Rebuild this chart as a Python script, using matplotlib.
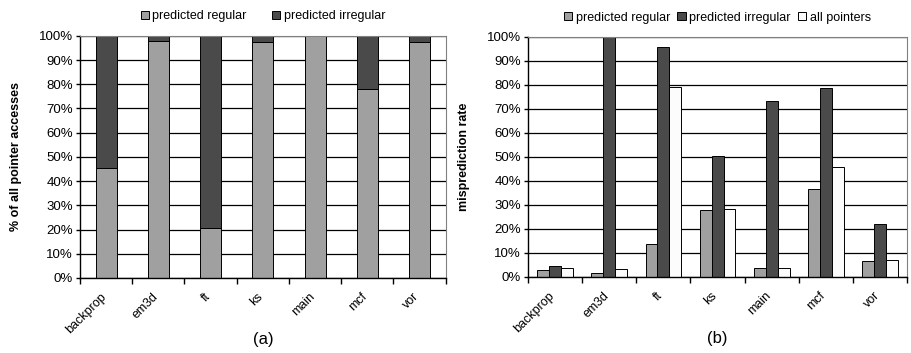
import numpy as np
import matplotlib.pyplot as plt

plt.rcParams['font.family'] = ['Liberation Sans', 'DejaVu Sans']

# ---- data ----
benchmarks = ['backprop', 'em3d', 'ft', 'ks', 'main', 'mcf', 'vor']

# (a) share of pointer accesses (%)
share_regular = [45.5, 98.0, 20.5, 97.5, 100.0, 78.0, 97.5]
share_irregular = [100 - v for v in share_regular]

# (b) misprediction rate (%)
miss_regular = [3.1, 1.8, 13.8, 27.8, 3.8, 36.8, 6.7]
miss_irregular = [4.6, 100.0, 95.8, 50.5, 73.5, 78.6, 22.1]
miss_all = [3.8, 3.3, 79.0, 28.5, 3.8, 46.0, 7.1]

c_reg = '#a0a0a0'
c_irr = '#4a4a4a'
c_all = '#fcfcfc'

fig = plt.figure(figsize=(9.12, 3.53), dpi=100)
ax1 = fig.add_axes([0.0877, 0.2125, 0.401, 0.686])
ax2 = fig.add_axes([0.579, 0.2153, 0.4156, 0.680])

x = np.arange(len(benchmarks))


def style_axis(ax, ylabel):
    ax.set_xlim(-0.5, len(benchmarks) - 0.5)
    ax.set_ylim(0, 100)
    ax.set_yticks(np.arange(0, 101, 10))
    ax.set_yticklabels(['%d%%' % v for v in range(0, 101, 10)], fontsize=9.5)
    ax.yaxis.grid(True, color='black', lw=0.9)
    ax.set_axisbelow(True)
    # label anchors nudged a bit left of the bar centres, like the original
    ax.set_xticks(x - 0.12)
    ax.set_xticklabels(benchmarks, rotation=45, ha='right', rotation_mode='anchor', fontsize=9)
    ax.tick_params(axis='x', length=0, pad=9)
    ax.set_xticks(np.arange(-0.5, len(benchmarks)), minor=True)
    ax.tick_params(axis='x', which='minor', length=4, direction='out', width=1)
    ax.tick_params(axis='y', length=3, direction='out', width=1, pad=2)
    for s in ['top', 'right']:
        ax.spines[s].set_color('#808080')
    for s in ['left', 'bottom']:
        ax.spines[s].set_color('black')
        ax.spines[s].set_linewidth(1.0)
    ax.set_ylabel(ylabel, fontsize=9, fontweight='bold', labelpad=12)


# ---- (a) stacked bars ----
w = 0.4
ax1.bar(x, share_regular, w, color=c_reg, edgecolor='black', lw=0.7, label='predicted regular')
ax1.bar(x, share_irregular, w, bottom=share_regular, color=c_irr, edgecolor='black', lw=0.7,
        label='predicted irregular')
style_axis(ax1, '% of all pointer accesses')
ax1.legend(loc='lower center', bbox_to_anchor=(0.5, 1.035), ncol=2, frameon=False, fontsize=9,
           handlelength=0.65, handleheight=0.65, handletextpad=0.3, columnspacing=2.0, borderaxespad=0)
ax1.text(0.5, -0.225, '(a)', transform=ax1.transAxes, ha='center', va='top', fontsize=12)

# ---- (b) grouped bars ----
bw = 0.22
ax2.bar(x - bw, miss_regular, bw, color=c_reg, edgecolor='black', lw=0.7, label='predicted regular')
ax2.bar(x, miss_irregular, bw, color=c_irr, edgecolor='black', lw=0.7, label='predicted irregular')
ax2.bar(x + bw, miss_all, bw, color=c_all, edgecolor='black', lw=0.7, label='all pointers')
style_axis(ax2, 'misprediction rate')
ax2.legend(loc='lower center', bbox_to_anchor=(0.5, 1.035), ncol=3, frameon=False, fontsize=9,
           handlelength=0.65, handleheight=0.65, handletextpad=0.3, columnspacing=0.6, borderaxespad=0)
ax2.text(0.5, -0.225, '(b)', transform=ax2.transAxes, ha='center', va='top', fontsize=12)

fig.savefig('out.png', dpi=100)
